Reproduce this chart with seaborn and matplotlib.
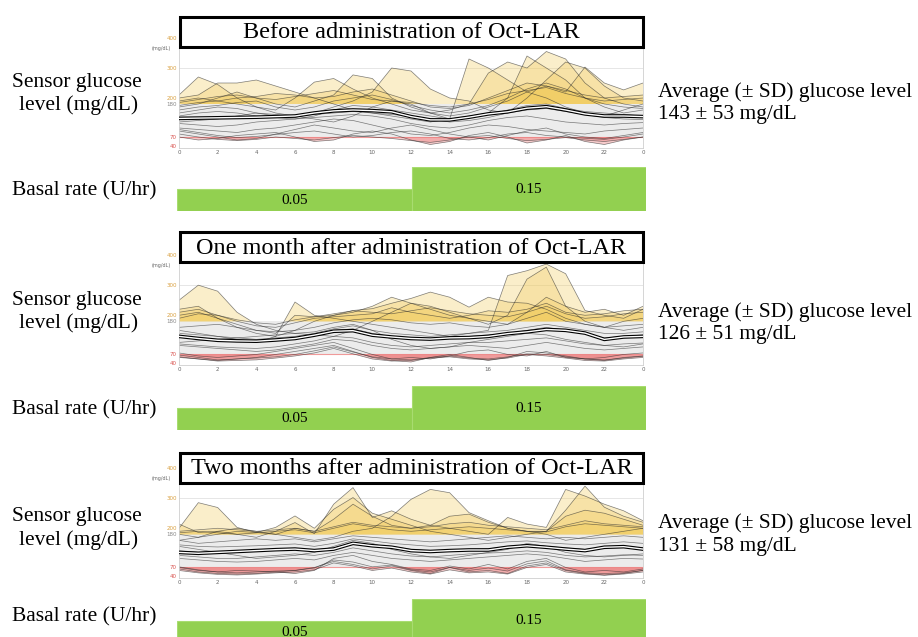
import matplotlib
matplotlib.use("Agg")
import matplotlib.pyplot as plt
import numpy as np
import pandas as pd
import seaborn as sns
from matplotlib.patches import Rectangle

# ---------------- data (mg/dL at each hour 0..24) ----------------
HOURS = list(range(25))

titles = [
    "Before administration of Oct-LAR",
    "One month after administration of Oct-LAR",
    "Two months after administration of Oct-LAR",
]
mean_sd = ["143 ± 53 mg/dL", "126 ± 51 mg/dL", "131 ± 58 mg/dL"]

median_before = [132, 133, 134, 135, 136, 138, 140, 150, 157, 160, 158, 154, 138,
                 127, 127, 136, 147, 154, 166, 171, 160, 147, 140, 140, 138]
median_1m = [130, 123, 117, 115, 114, 118, 123, 134, 147, 149, 134, 128, 123,
             121, 125, 126, 130, 139, 145, 153, 150, 141, 120, 128, 130]
median_2m = [120, 117, 120, 123, 126, 129, 131, 126, 131, 150, 142, 137, 126,
             123, 126, 128, 128, 137, 142, 137, 131, 126, 137, 139, 131]

days_before = [
    [150, 160, 170, 165, 150, 140, 135, 150, 170, 190, 220, 300, 290, 230, 200, 190, 160, 150, 200, 260, 320, 300, 240, 200, 190],
    [210, 270, 245, 200, 170, 150, 140, 130, 120, 140, 170, 190, 180, 150, 130, 330, 300, 260, 220, 200, 170, 150, 140, 160, 180],
    [200, 210, 250, 250, 260, 240, 220, 200, 180, 160, 150, 140, 130, 120, 130, 140, 150, 200, 340, 300, 260, 200, 170, 150, 160],
    [190, 200, 190, 180, 170, 160, 200, 253, 265, 230, 200, 180, 160, 150, 160, 180, 283, 320, 300, 355, 330, 250, 200, 180, 170],
    [170, 180, 200, 220, 200, 180, 170, 190, 210, 277, 265, 200, 170, 150, 140, 150, 170, 190, 220, 240, 220, 303, 250, 227, 250],
    [120, 125, 130, 140, 150, 145, 140, 145, 150, 155, 150, 145, 140, 130, 120, 125, 135, 150, 160, 165, 155, 145, 135, 130, 128],
    [100, 95, 90, 85, 95, 100, 110, 120, 130, 125, 110, 95, 80, 75, 85, 100, 110, 105, 95, 90, 85, 80, 90, 95, 100],
    [70, 60, 65, 75, 80, 85, 70, 55, 60, 80, 90, 80, 60, 45, 55, 75, 85, 70, 50, 60, 75, 55, 45, 60, 70],
    [90, 80, 70, 60, 65, 80, 95, 110, 100, 90, 85, 100, 110, 95, 80, 70, 60, 75, 90, 100, 80, 70, 65, 75, 85],
    [160, 170, 175, 185, 190, 170, 160, 170, 190, 200, 210, 195, 175, 160, 150, 160, 175, 200, 230, 250, 230, 200, 180, 170, 165],
    [185, 195, 205, 210, 200, 195, 205, 215, 225, 210, 195, 190, 185, 175, 170, 180, 195, 215, 225, 235, 215, 200, 190, 195, 200],
    [175, 185, 190, 200, 205, 215, 210, 200, 205, 220, 230, 210, 190, 170, 165, 175, 200, 225, 250, 240, 225, 210, 200, 205, 210],
    [140, 150, 155, 150, 140, 135, 130, 140, 160, 175, 170, 160, 150, 140, 130, 135, 145, 160, 175, 180, 165, 155, 150, 145, 140],
    [115, 110, 105, 110, 120, 125, 130, 135, 140, 145, 140, 130, 115, 105, 100, 110, 125, 135, 140, 130, 120, 115, 110, 115, 118],
    [80, 70, 62, 58, 62, 70, 65, 60, 68, 75, 70, 65, 58, 52, 60, 70, 75, 65, 58, 62, 68, 60, 55, 62, 70],
    [95, 85, 75, 68, 72, 78, 85, 90, 80, 70, 75, 85, 90, 80, 65, 60, 68, 80, 85, 75, 70, 66, 62, 70, 80],
]
days_1m = [
    [250, 300, 280, 210, 170, 150, 140, 135, 130, 150, 180, 210, 240, 230, 210, 190, 170, 200, 320, 360, 230, 180, 160, 150, 160],
    [220, 230, 190, 160, 140, 130, 150, 180, 200, 210, 230, 260, 240, 220, 200, 190, 180, 170, 210, 260, 230, 210, 220, 200, 230],
    [200, 210, 190, 170, 150, 140, 200, 195, 200, 216, 222, 240, 256, 277, 260, 227, 260, 244, 240, 220, 190, 170, 160, 180, 190],
    [150, 140, 130, 120, 110, 130, 244, 200, 190, 180, 170, 160, 150, 140, 130, 140, 150, 332, 348, 370, 338, 216, 200, 190, 220],
    [130, 125, 120, 118, 115, 120, 125, 135, 150, 155, 140, 130, 125, 120, 125, 130, 135, 140, 150, 160, 150, 140, 125, 130, 135],
    [60, 55, 50, 55, 60, 70, 80, 90, 100, 80, 60, 50, 45, 60, 70, 60, 50, 60, 80, 75, 65, 55, 50, 60, 65],
    [75, 65, 60, 65, 70, 80, 90, 100, 110, 90, 70, 55, 60, 55, 65, 80, 85, 70, 65, 80, 60, 55, 60, 70, 75],
    [100, 95, 90, 85, 80, 85, 95, 105, 120, 115, 100, 90, 85, 90, 95, 100, 95, 90, 100, 110, 100, 90, 85, 90, 95],
    [160, 165, 170, 160, 150, 145, 150, 160, 175, 185, 190, 185, 175, 170, 175, 165, 160, 170, 190, 210, 180, 170, 160, 165, 170],
    [110, 115, 120, 125, 130, 135, 140, 145, 160, 170, 150, 120, 100, 90, 95, 110, 120, 130, 140, 135, 120, 110, 100, 95, 105],
    [190, 205, 200, 185, 175, 170, 185, 195, 205, 215, 210, 205, 215, 225, 215, 205, 200, 195, 210, 230, 205, 190, 195, 205, 210],
    [210, 220, 200, 180, 165, 160, 175, 190, 195, 200, 205, 225, 210, 200, 190, 200, 215, 210, 220, 240, 210, 200, 205, 215, 220],
    [140, 135, 130, 125, 120, 125, 130, 140, 155, 165, 150, 140, 135, 130, 135, 140, 145, 150, 160, 170, 160, 150, 140, 140, 145],
    [105, 100, 95, 92, 90, 95, 105, 115, 130, 125, 110, 100, 95, 100, 105, 110, 110, 115, 120, 125, 115, 105, 100, 105, 108],
    [62, 55, 48, 50, 52, 58, 65, 75, 90, 72, 55, 48, 50, 58, 62, 55, 52, 58, 70, 65, 58, 50, 48, 55, 60],
    [68, 60, 52, 55, 58, 62, 70, 82, 95, 78, 62, 55, 52, 60, 65, 58, 55, 62, 72, 70, 62, 55, 52, 58, 64],
]
days_2m = [
    [200, 285, 269, 203, 186, 180, 170, 160, 170, 190, 200, 240, 296, 329, 318, 252, 225, 200, 190, 180, 160, 170, 180, 190, 200],
    [214, 186, 190, 180, 170, 190, 219, 182, 280, 335, 236, 258, 230, 210, 200, 190, 180, 236, 214, 203, 329, 307, 280, 258, 225],
    [180, 170, 180, 190, 186, 203, 241, 200, 263, 302, 250, 230, 210, 190, 180, 170, 160, 170, 180, 190, 260, 340, 270, 240, 220],
    [160, 170, 190, 200, 190, 180, 200, 190, 230, 280, 240, 210, 200, 210, 240, 247, 220, 200, 190, 190, 240, 260, 250, 230, 210],
    [125, 120, 122, 125, 128, 130, 132, 128, 135, 150, 145, 140, 130, 125, 128, 130, 132, 140, 145, 140, 135, 130, 138, 140, 135],
    [65, 55, 50, 48, 50, 55, 60, 70, 90, 80, 65, 75, 60, 50, 70, 55, 60, 50, 75, 85, 60, 50, 45, 50, 60],
    [70, 60, 55, 60, 58, 55, 50, 60, 100, 110, 90, 80, 65, 60, 75, 65, 80, 65, 90, 100, 70, 55, 60, 55, 65],
    [100, 95, 90, 88, 90, 95, 100, 95, 110, 120, 110, 100, 95, 90, 95, 100, 105, 110, 115, 110, 100, 90, 95, 100, 98],
    [160, 150, 155, 160, 165, 160, 165, 155, 165, 175, 170, 165, 160, 155, 160, 165, 170, 175, 170, 165, 170, 165, 170, 175, 170],
    [140, 130, 120, 110, 100, 105, 110, 120, 140, 160, 150, 130, 115, 105, 100, 110, 120, 130, 150, 140, 120, 110, 105, 110, 115],
    [190, 195, 200, 195, 190, 195, 200, 190, 205, 220, 210, 205, 200, 205, 215, 220, 210, 205, 200, 195, 210, 225, 215, 210, 205],
    [185, 190, 185, 180, 185, 190, 195, 185, 200, 215, 205, 195, 190, 195, 200, 205, 200, 195, 190, 188, 205, 215, 210, 205, 200],
    [145, 140, 138, 140, 142, 145, 148, 140, 150, 165, 158, 150, 145, 140, 142, 145, 150, 155, 158, 152, 148, 145, 150, 155, 150],
    [110, 105, 100, 100, 105, 110, 115, 110, 120, 135, 125, 115, 108, 105, 110, 115, 118, 120, 125, 120, 110, 105, 108, 112, 110],
    [60, 52, 47, 45, 48, 52, 55, 62, 85, 75, 60, 68, 55, 48, 62, 52, 55, 48, 70, 80, 55, 48, 44, 48, 55],
    [72, 62, 55, 52, 55, 58, 60, 68, 95, 88, 72, 78, 62, 55, 70, 60, 68, 58, 82, 92, 62, 52, 50, 52, 60],
]

basal_start = [0, 12]
basal_width = [12, 12]
basal_rate = [0.05, 0.15]

# ---------------- layout (pixel boxes in a 918x637 figure) ----------------
W, H = 918, 637
sns.set_theme(style="white")
plt.rcParams["font.family"] = ["Liberation Serif", "DejaVu Serif"]
plt.rcParams["text.color"] = "black"

fig = plt.figure(figsize=(W / 100, H / 100), dpi=100)


def px_axes(x0, y0, x1, y1):
    return fig.add_axes([x0 / W, 1 - y1 / H, (x1 - x0) / W, (y1 - y0) / H])


def fy(y):
    return 1 - y / H


cgm_boxes = [(179, 32, 643, 147.5), (179, 249, 643, 365), (179, 462, 643, 578)]
bar_boxes = [(177, 167, 646, 211), (177, 386, 646, 430), (177, 599, 646, 643)]
title_boxes = [(180, 17, 643, 47), (180, 232, 643, 262), (180, 453, 643, 483)]
left_lbl_y = [(82, 105), (300, 323), (517, 540)]
right_lbl_y = [(92, 115), (312, 335), (523, 547)]
basal_lbl_y = [191, 410, 617]

medians = [median_before, median_1m, median_2m]
all_days = [days_before, days_1m, days_2m]

YELLOW = "#f1cc60"
RED = "#ec8080"

for i in range(3):
    ax = px_axes(*cgm_boxes[i])
    ax.set_facecolor("white")
    ax.axhspan(70, 180, color="#ececec", zorder=0, lw=0)
    ax.axhline(300, color="#e2e2e2", lw=0.6, zorder=0)
    ax.axhline(70, color="#f09a9a", lw=0.8, zorder=1)

    rows = []
    for d, vals in enumerate(all_days[i]):
        v = np.array(vals, dtype=float)
        ax.fill_between(HOURS, 180, v, where=v > 180, interpolate=True,
                        color=YELLOW, alpha=0.33, lw=0, zorder=1)
        ax.fill_between(HOURS, 70, v, where=v < 70, interpolate=True,
                        color=RED, alpha=0.4, lw=0, zorder=1)
        for h, g in zip(HOURS, vals):
            rows.append({"hour": h, "glucose": g, "day": d})
    df = pd.DataFrame(rows)
    sns.lineplot(data=df, x="hour", y="glucose", units="day", estimator=None,
                 color="#2a2a2a", lw=0.5, alpha=0.6, ax=ax, zorder=2)
    sns.lineplot(x=HOURS, y=medians[i], color="black", lw=2.6, ax=ax, zorder=3)
    sns.lineplot(x=HOURS, y=medians[i], color="white", lw=1.0, ax=ax, zorder=4)

    ax.set_xlim(0, 24)
    ax.set_ylim(35, 420)
    ax.set_xlabel("")
    ax.set_ylabel("")
    ax.set_xticks(range(0, 25, 2))
    ax.set_xticklabels([str(h % 24) for h in range(0, 25, 2)],
                       fontsize=4, family="DejaVu Sans", color="#666666")
    ax.set_yticks([40, 70, 180, 200, 300, 400])
    ax.set_yticklabels(["40", "70", "180", "200", "300", "400"],
                       fontsize=4, family="DejaVu Sans")
    for lbl, c in zip(ax.get_yticklabels(),
                      ["#d9534f", "#d9534f", "#888888", "#d9a040", "#d9a040", "#d9a040"]):
        lbl.set_color(c)
    ax.tick_params(length=0, pad=1.5)
    ax.text(-0.4, 365, "(mg/dL)", fontsize=3.5, family="DejaVu Sans",
            color="#666666", ha="right", va="center")
    for s in ax.spines.values():
        s.set_color("#cfcfcf")
        s.set_linewidth(0.6)

    # title box
    x0, y0, x1, y1 = title_boxes[i]
    fig.patches.append(Rectangle((x0 / W, fy(y1)), (x1 - x0) / W, (y1 - y0) / H,
                                 transform=fig.transFigure, facecolor="white",
                                 edgecolor="black", lw=2.2, zorder=10))
    fig.text((x0 + x1) / 2 / W, fy((y0 + y1) / 2 + 1), titles[i], fontsize=17.5,
             ha="center", va="center", zorder=11)

    # basal rate bars
    bx = px_axes(*bar_boxes[i])
    bx.bar(basal_start, [r + 0.05 for r in basal_rate], width=basal_width,
           bottom=-0.05, align="edge", color="#92d050", edgecolor="#a8dc70", lw=0.8)
    for s, w, r in zip(basal_start, basal_width, basal_rate):
        bx.text(s + w / 2, (r - 0.05) / 2, f"{r:.2f}", ha="center", va="center",
                fontsize=11)
    bx.set_xlim(0, 24)
    bx.set_ylim(-0.05, 0.15)
    bx.axis("off")

    # side labels
    fig.text(77 / W, fy(left_lbl_y[i][0]), "Sensor glucose", fontsize=15.5,
             ha="center", va="center")
    fig.text(79 / W, fy(left_lbl_y[i][1]), "level (mg/dL)", fontsize=15.5,
             ha="center", va="center")
    fig.text(658 / W, fy(right_lbl_y[i][0]), "Average (± SD) glucose level",
             fontsize=15.5, ha="left", va="center")
    fig.text(658 / W, fy(right_lbl_y[i][1]), mean_sd[i], fontsize=15.5,
             ha="left", va="center")
    fig.text(12 / W, fy(basal_lbl_y[i]), "Basal rate (U/hr)", fontsize=15.5,
             ha="left", va="center")

fig.savefig("out.png", dpi=100, facecolor="white")
